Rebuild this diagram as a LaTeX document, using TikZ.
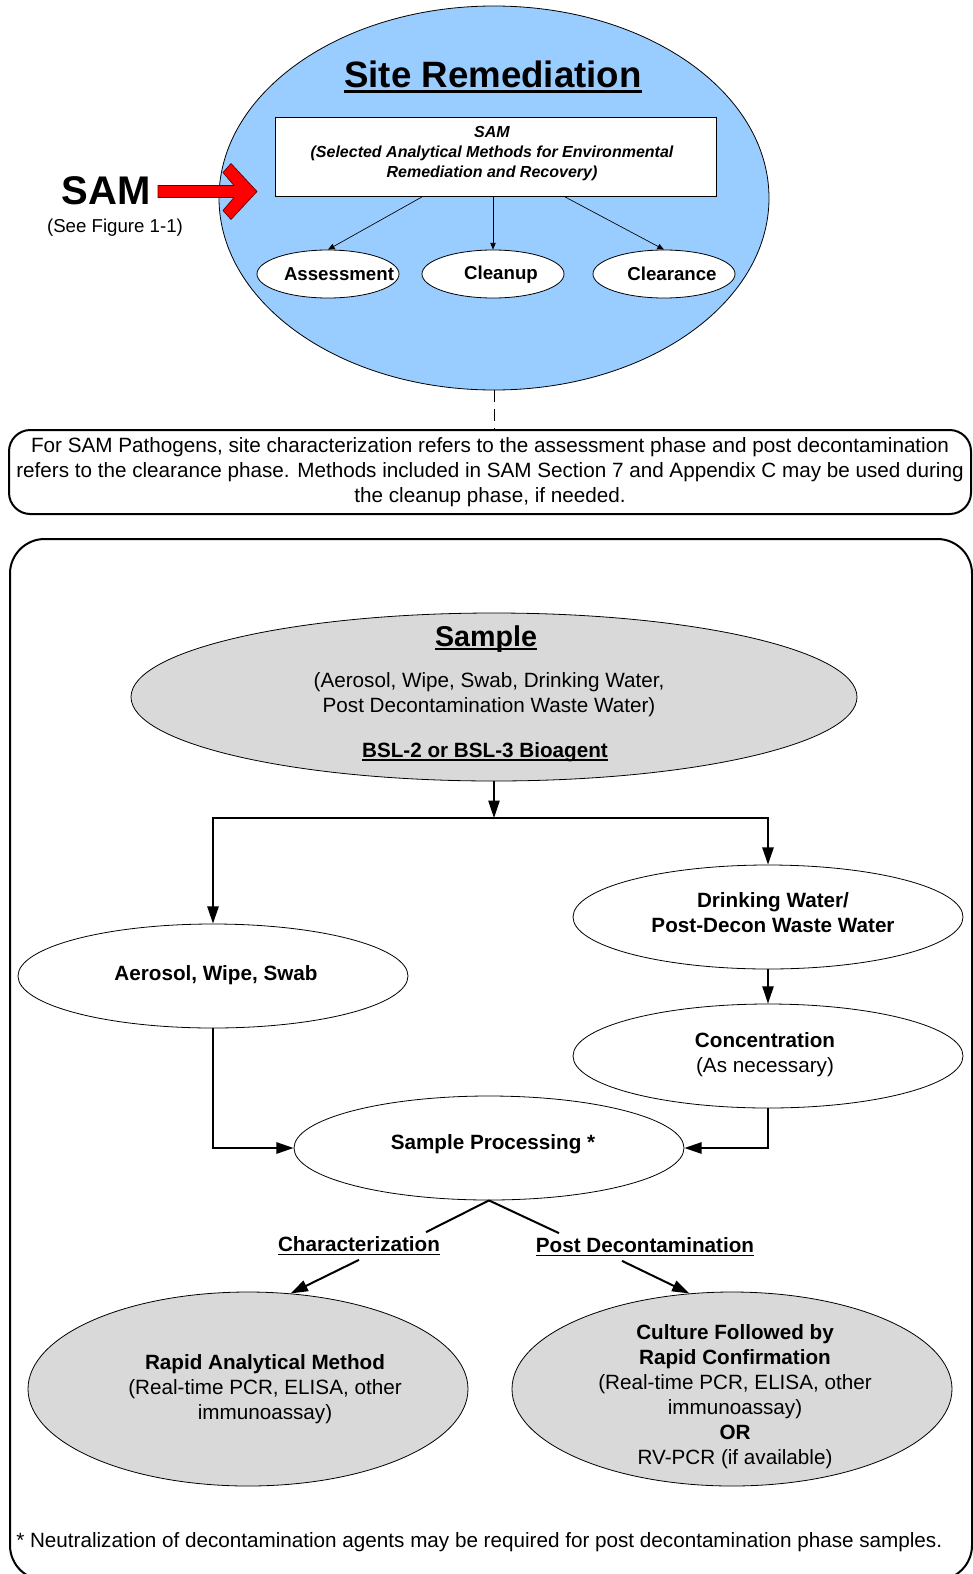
\documentclass[tikz,border=0pt]{standalone}
\usepackage{fontspec}
\setmainfont{Liberation Sans}
\usetikzlibrary{shapes.geometric,arrows.meta,calc}
\definecolor{skyb}{RGB}{153,204,255}
\definecolor{lgray}{RGB}{217,217,217}
\newcommand{\myul}[3]{\setbox0=\hbox{#3}\rlap{\rule[-#1]{\wd0}{#2}}\box0}
\newcommand{\bodyfs}{\fontsize{15.5}{18.75}\selectfont}
\newcommand{\smallfs}{\fontsize{14}{18}\selectfont}
\begin{document}
\begin{tikzpicture}[x=0.75pt,y=-0.75pt,
  ell/.style={ellipse,draw,line width=0.6pt,inner sep=0pt,align=center},
  conn/.style={line width=1.5pt,-{Triangle[length=13pt,width=8.5pt]}},
  thinconn/.style={line width=1pt,-{Triangle[length=13pt,width=8.5pt]}},
  topconn/.style={line width=0.5pt,-{Triangle[length=5pt,width=4pt]}}]
\useasboundingbox (0,0) rectangle (972,1574);

% ---------- top section ----------
\node[ell, fill=skyb, minimum width=412.5pt, minimum height=288pt] (blue) at (494,198) {};
\node (title) at (493,77) {\myul{4.5pt}{2.2pt}{\bfseries\fontsize{27.5}{33}\selectfont Site Remediation}};
\node[draw, fill=white, line width=0.6pt, minimum width=330.75pt, minimum height=59.25pt] (box) at (496,157) {};
\node[align=center, font={\bfseries\itshape\fontsize{12}{15}\selectfont}] (boxt) at (492,154)
  {SAM\\(Selected Analytical Methods for Environmental\\Remediation and Recovery)};
\node[ell, fill=white, minimum width=106.5pt, minimum height=36pt] (ass) at (328,274) {};
\node[ell, fill=white, minimum width=106.5pt, minimum height=36pt] (clean) at (493,274) {};
\node[ell, fill=white, minimum width=106.5pt, minimum height=36pt] (clear) at (664,274) {};
\node[font={\bfseries\smallfs}] (asst) at (339,274) {Assessment};
\node[font={\bfseries\smallfs}] (cleant) at (501,275) {Cleanup};
\node[font={\bfseries\smallfs}] (cleart) at (672,274) {Clearance};
\draw[topconn] ($(box.south)+(-74,0)$) -- (ass.north);
\draw[topconn] (box.south -| clean.north) -- (clean.north);
\draw[topconn] ($(box.south)+(69,0)$) -- (clear.north);

\node[font={\bfseries\fontsize{30}{36}\selectfont}] (samt) at (106,191) {SAM};
\node[font=\smallfs] (seefig) at (115,228) {(See Figure 1-1)};
\draw[fill=red, draw=black!60!red, line width=0.5pt]
  (158,185.5) -- (234,185.5) -- (223,172.5) -- (231,163.5) -- (257,191.5)
  -- (231,219.5) -- (223,210.5) -- (234,197.5) -- (158,197.5) -- cycle;

% ---------- note ----------
\node[draw, rounded corners=16pt, line width=1.5pt, minimum width=721.5pt, minimum height=63pt,
      align=center, font=\bodyfs] (note) at (490,472)
  {For SAM Pathogens, site characterization refers to the assessment phase and post decontamination\\
   refers to the clearance phase. Methods included in SAM Section 7 and Appendix C may be used during\\
   the cleanup phase, if needed.};
\draw[line width=0.6pt, dash pattern=on 9pt off 5pt] (blue.south) -- (blue.south |- note.north);

% ---------- frame ----------
\node[draw, rounded corners=26pt, line width=1.5pt, minimum width=721.5pt, minimum height=780.75pt] (frame) at (491,1059.5) {};

% ---------- sample ----------
\node[ell, fill=lgray, minimum width=544.5pt, minimum height=126pt] (sample) at (494,697) {};
\node (st) at (486,639) {\myul{3pt}{1.5pt}{\bfseries\fontsize{21.5}{26}\selectfont Sample}};
\node[align=center, font=\bodyfs] (sl) at (489,695) {(Aerosol, Wipe, Swab, Drinking Water,\\Post Decontamination Waste Water)};
\node[font={\bfseries\bodyfs}] (sb) at (485,752) {\myul{2.5pt}{1pt}{BSL-2 or BSL-3 Bioagent}};

\coordinate (split) at (494,818);
\draw[thinconn] (sample.south) -- (split);

\node[ell, fill=white, minimum width=292.5pt, minimum height=78pt] (aer) at (213,976) {};
\node[font={\bfseries\bodyfs}] (aert) at (216,975) {Aerosol, Wipe, Swab};
\node[ell, fill=white, minimum width=292.5pt, minimum height=78pt] (dw) at (768,917) {};
\node[align=center, font={\bfseries\bodyfs}] (dwt) at (773,913) {Drinking Water/\\Post-Decon Waste Water};
\node[ell, fill=white, minimum width=292.5pt, minimum height=78pt] (conc) at (768,1056) {};
\node[align=center, font=\bodyfs] (conct) at (765,1055) {\textbf{Concentration}\\(As necessary)};
\node[ell, fill=white, minimum width=292.5pt, minimum height=78pt] (sp) at (489,1148) {};
\node[font={\bfseries\bodyfs}] (spt) at (493,1144) {Sample Processing *};

\draw[conn] (split) -| (aer.north);
\draw[conn] (split) -| (dw.north);
\draw[thinconn] (dw.south) -- (conc.north);
\draw[conn] (aer.south) |- (sp.west);
\draw[conn] (conc.south) |- (sp.east);

\node[font={\bfseries\bodyfs}] (charlab) at (359,1246) {\myul{2.5pt}{1pt}{Characterization}};
\node[font={\bfseries\bodyfs}] (postlab) at (645,1247) {\myul{2.5pt}{1pt}{Post Decontamination}};

\node[ell, fill=lgray, minimum width=330pt, minimum height=145.5pt] (rapid) at (248,1389) {};
\node[align=center, font=\bodyfs] (rt) at (265,1389)
  {\textbf{Rapid Analytical Method}\\(Real-time PCR, ELISA, other\\immunoassay)};
\node[ell, fill=lgray, minimum width=330pt, minimum height=145.5pt] (culture) at (732,1389) {};
\node[align=center, font=\bodyfs] (ct) at (735,1397)
  {\textbf{Culture Followed by}\\\textbf{Rapid Confirmation}\\(Real-time PCR, ELISA, other\\immunoassay)\\\textbf{OR}\\RV-PCR (if available)};

\draw[line width=1.5pt] (sp.south) -- ($(charlab.north)+(67,0)$);
\draw[line width=1.5pt] (sp.south) -- ($(postlab.north)+(-86,0)$);
\draw[conn] (charlab.south) -- (rapid.66);
\draw[conn] ($(postlab.south)+(-23,0)$) -- (culture.114);

\node[anchor=west, font=\bodyfs, inner sep=0pt] (foot) at (16,1542)
  {* Neutralization of decontamination agents may be required for post decontamination phase samples.};
\end{tikzpicture}
\end{document}
